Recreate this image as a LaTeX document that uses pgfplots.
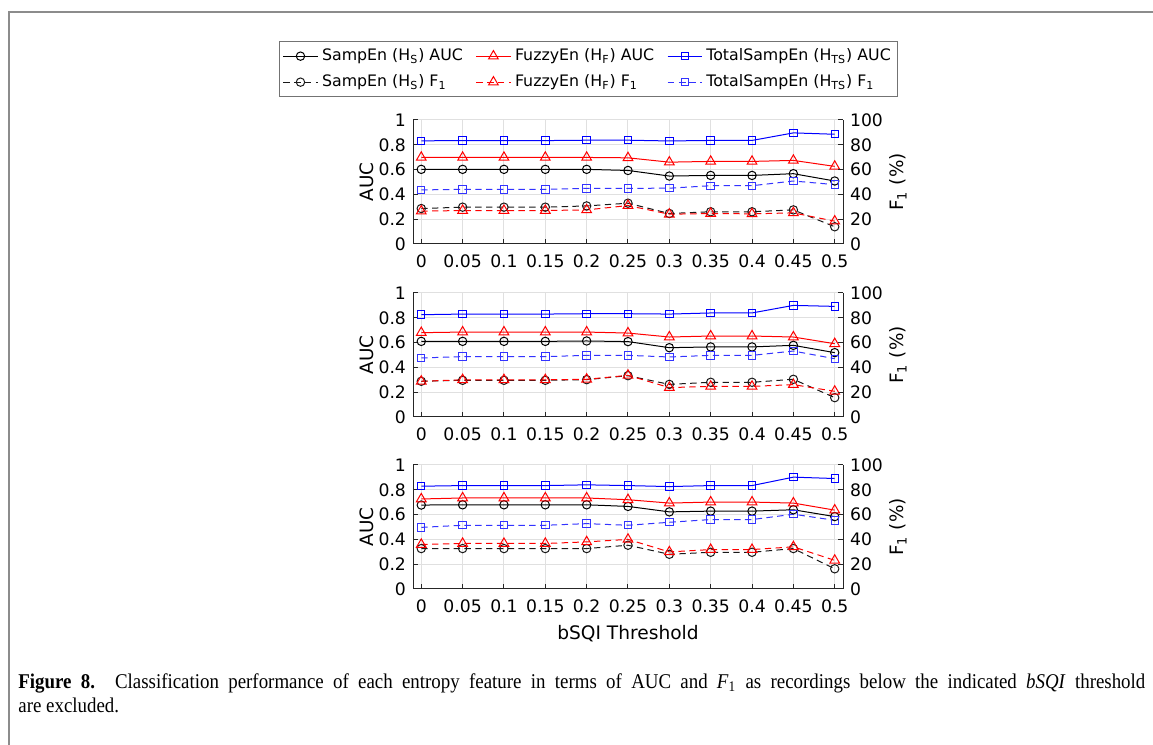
\documentclass[border=0pt]{standalone}
\usepackage{fontspec}
\setmainfont{DejaVu Sans}
\newfontfamily\capfont{Liberation Serif}[FakeStretch=0.9]
\usepackage{pgfplots}
\usepackage{pgfplotstable}
\pgfplotsset{compat=1.18}

\pgfplotstableread{
x    sA    fA    tA    sF    fF    tF
0    0.602 0.698 0.832 0.286 0.265 0.436
0.05 0.602 0.698 0.834 0.297 0.270 0.441
0.1  0.602 0.698 0.834 0.297 0.270 0.441
0.15 0.602 0.698 0.834 0.297 0.270 0.441
0.2  0.602 0.698 0.837 0.307 0.275 0.449
0.25 0.593 0.695 0.837 0.329 0.310 0.449
0.3  0.548 0.660 0.831 0.246 0.240 0.450
0.35 0.553 0.666 0.835 0.260 0.246 0.470
0.4  0.553 0.666 0.835 0.260 0.243 0.470
0.45 0.567 0.674 0.896 0.275 0.251 0.508
0.5  0.508 0.626 0.885 0.139 0.184 0.479
}\dataA

\pgfplotstableread{
x    sA    fA    tA    sF    fF    tF
0    0.610 0.680 0.825 0.288 0.288 0.476
0.05 0.610 0.685 0.830 0.296 0.300 0.487
0.1  0.610 0.685 0.830 0.296 0.300 0.487
0.15 0.610 0.685 0.830 0.296 0.300 0.487
0.2  0.613 0.685 0.833 0.301 0.304 0.497
0.25 0.608 0.677 0.833 0.333 0.336 0.497
0.3  0.559 0.645 0.830 0.263 0.237 0.484
0.35 0.565 0.653 0.839 0.280 0.247 0.497
0.4  0.565 0.653 0.839 0.280 0.247 0.497
0.45 0.578 0.645 0.900 0.304 0.261 0.532
0.5  0.519 0.591 0.892 0.156 0.207 0.470
}\dataB

\pgfplotstableread{
x    sA    fA    tA    sF    fF    tF
0    0.677 0.726 0.829 0.326 0.359 0.497
0.05 0.679 0.734 0.834 0.326 0.367 0.514
0.1  0.679 0.734 0.834 0.326 0.367 0.514
0.15 0.679 0.734 0.834 0.326 0.367 0.514
0.2  0.679 0.734 0.840 0.326 0.380 0.527
0.25 0.666 0.720 0.834 0.353 0.400 0.514
0.3  0.622 0.693 0.826 0.280 0.299 0.538
0.35 0.628 0.701 0.834 0.296 0.318 0.560
0.4  0.628 0.701 0.834 0.296 0.318 0.560
0.45 0.639 0.693 0.902 0.326 0.340 0.603
0.5  0.584 0.636 0.891 0.163 0.231 0.554
}\dataC

\pgfplotsset{
  panel/.style={scale only axis, width=215pt, height=62pt,
    xmin=-0.01, xmax=0.51, anchor=south west},
  mainax/.style={panel, ymin=0, ymax=1,
    axis x line*=bottom, axis y line*=left,
    tick align=inside, major tick length=2.5pt,
    xtick={0,0.05,0.1,0.15,0.2,0.25,0.3,0.35,0.4,0.45,0.5},
    xticklabels={0,0.05,0.1,0.15,0.2,0.25,0.3,0.35,0.4,0.45,0.5},
    ytick={0,0.2,0.4,0.6,0.8,1},
    yticklabels={0,0.2,0.4,0.6,0.8,1},
    grid=major, grid style={black!12, line width=0.5pt},
    axis line style={black!85, line width=0.5pt},
    tick style={black!85, line width=0.5pt},
    tick label style={font=\fontsize{8.6}{10}\selectfont},
    xticklabel style={yshift=-2pt},
    ylabel={AUC},
    ylabel style={font=\fontsize{9.2}{11}\selectfont,
      at={(axis description cs:-0.107,0.5)}, anchor=center},
  },
  rightax/.style={panel, ymin=0, ymax=100,
    axis x line=none, axis y line*=right,
    tick align=inside, major tick length=2.5pt,
    ytick={0,20,40,60,80,100},
    yticklabels={0,20,40,60,80,100},
    axis line style={black!85, line width=0.5pt},
    tick style={black!85, line width=0.5pt},
    tick label style={font=\fontsize{8.6}{10}\selectfont},
    ylabel={F\textsubscript{1} (\%)},
    ylabel style={font=\fontsize{9.2}{11}\selectfont,
      at={(axis description cs:1.128,0.5)}, anchor=center, rotate=0},
  },
  sAs/.style={black, line width=0.5pt, mark=o, mark size=2.1pt, mark options={solid}},
  fAs/.style={red, line width=0.5pt, mark=triangle, mark size=2.8pt, mark options={solid}},
  tAs/.style={blue, line width=0.5pt, mark=square, mark size=1.85pt, mark options={solid}},
  sFs/.style={black!90, line width=0.5pt, dash pattern=on 3.2pt off 2.2pt, mark=o, mark size=2.1pt, mark options={solid}},
  fFs/.style={red, line width=0.5pt, dash pattern=on 3.2pt off 2.2pt, mark=triangle, mark size=2.8pt, mark options={solid}},
  tFs/.style={blue!80, line width=0.5pt, dash pattern=on 3.2pt off 2.2pt, mark=square, mark size=1.85pt, mark options={solid}},
}

\begin{document}
\begin{tikzpicture}
\useasboundingbox (0,0) rectangle (576.5pt,372.5pt);
\draw[black!45, line width=1pt] (4.5pt,0pt) -- (4.5pt,366.5pt) -- (576.5pt,366.5pt);

% ---------- Panel 1 ----------
\begin{axis}[mainax, at={(206.5pt,250.5pt)},
  legend columns=3, legend cell align=left,
  legend style={at={(axis description cs:0.409,1.41)}, anchor=center,
    draw=black!55, line width=0.5pt, fill=white,
    font=\fontsize{7.9}{9.5}\selectfont, inner sep=1.5pt,
    /tikz/row sep=1.5pt,
    /tikz/every even column/.append style={column sep=4.5pt}},
  ]
\addplot[sAs] table[x=x,y=sA]{\dataA};
\addlegendentry{SampEn (H\textsubscript{S}) AUC}
\addplot[fAs] table[x=x,y=fA]{\dataA};
\addlegendentry{FuzzyEn (H\textsubscript{F}) AUC}
\addplot[tAs] table[x=x,y=tA]{\dataA};
\addlegendentry{TotalSampEn (H\textsubscript{TS}) AUC}
\addplot[sFs] table[x=x,y=sF]{\dataA};
\addlegendentry{SampEn (H\textsubscript{S}) F\textsubscript{1}}
\addplot[fFs] table[x=x,y=fF]{\dataA};
\addlegendentry{FuzzyEn (H\textsubscript{F}) F\textsubscript{1}}
\addplot[tFs] table[x=x,y=tF]{\dataA};
\addlegendentry{TotalSampEn (H\textsubscript{TS}) F\textsubscript{1}}
\node[font=\fontsize{8.2}{10}\selectfont\bfseries] at (axis description cs:-0.2465,0.5) {N=250};
\end{axis}
\begin{axis}[rightax, at={(206.5pt,250.5pt)}]
\end{axis}

% ---------- Panel 2 ----------
\begin{axis}[mainax, at={(206.5pt,164pt)}]
\addplot[sAs] table[x=x,y=sA]{\dataB};
\addplot[fAs] table[x=x,y=fA]{\dataB};
\addplot[tAs] table[x=x,y=tA]{\dataB};
\addplot[sFs] table[x=x,y=sF]{\dataB};
\addplot[fFs] table[x=x,y=fF]{\dataB};
\addplot[tFs] table[x=x,y=tF]{\dataB};
\node[font=\fontsize{8.2}{10}\selectfont\bfseries] at (axis description cs:-0.2465,0.5) {N=500};
\end{axis}
\begin{axis}[rightax, at={(206.5pt,164pt)}]
\end{axis}

% ---------- Panel 3 ----------
\begin{axis}[mainax, at={(206.5pt,78pt)},
  xlabel={bSQI Threshold},
  xlabel style={font=\fontsize{9.3}{11}\selectfont,
    at={(axis description cs:0.5,-0.36)}, anchor=center}]
\addplot[sAs] table[x=x,y=sA]{\dataC};
\addplot[fAs] table[x=x,y=fA]{\dataC};
\addplot[tAs] table[x=x,y=tA]{\dataC};
\addplot[sFs] table[x=x,y=sF]{\dataC};
\addplot[fFs] table[x=x,y=fF]{\dataC};
\addplot[tFs] table[x=x,y=tF]{\dataC};
\node[font=\fontsize{8.2}{10}\selectfont\bfseries] at (axis description cs:-0.2465,0.5) {N=1000};
\end{axis}
\begin{axis}[rightax, at={(206.5pt,78pt)}]
\end{axis}

% ---------- Caption ----------
\node[anchor=north west, inner sep=0pt, text width=563.5pt, align=justify,
  font=\capfont\fontsize{10.5}{12}\selectfont] at (9pt,36pt)
  {\textbf{Figure 8.} Classification performance of each entropy feature in terms of AUC and \textit{F}\textsubscript{1} as recordings below the indicated \textit{bSQI} threshold\linebreak are excluded.};
\end{tikzpicture}
\end{document}
